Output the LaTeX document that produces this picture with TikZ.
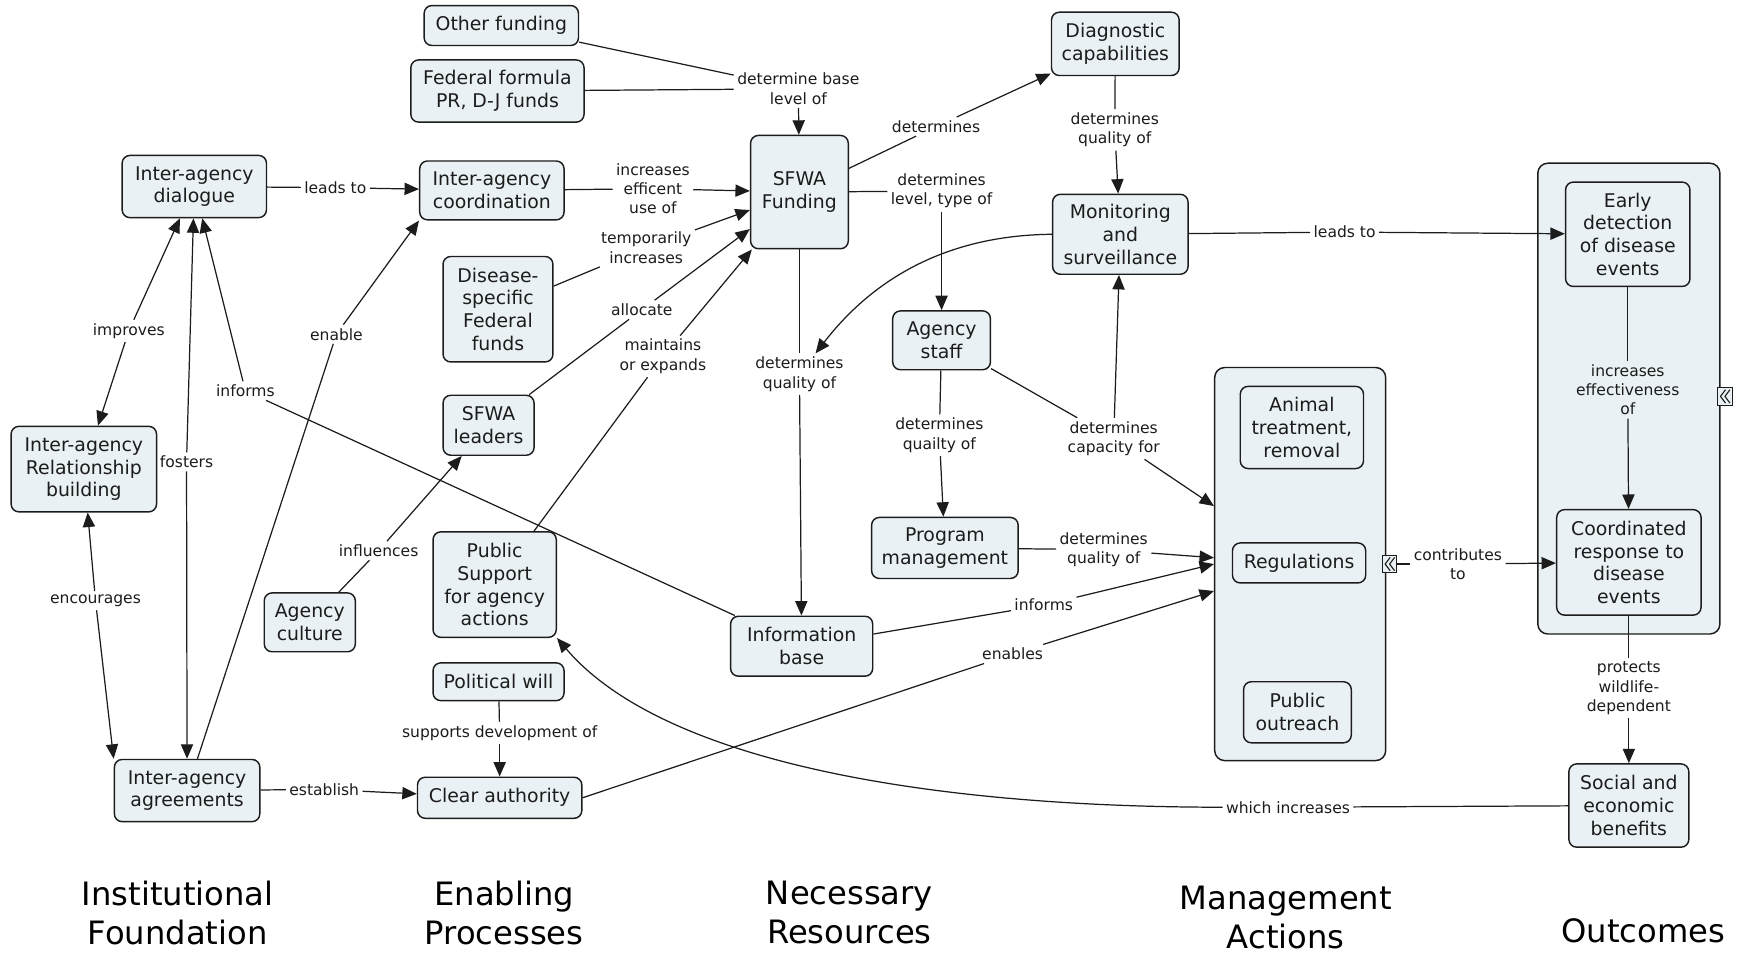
\documentclass[tikz,border=0pt]{standalone}
\usepackage{fontspec}
\setmainfont{DejaVu Sans}
\usetikzlibrary{arrows.meta}
\definecolor{boxfill}{RGB}{234,241,245}
\definecolor{ink}{RGB}{28,28,28}
\tikzset{
 box/.style={draw=ink, fill=boxfill, rounded corners=7pt, line width=1.3pt, align=center, inner sep=2pt, font=\fontsize{17}{20.5}\selectfont, text=ink},
 lab/.style={align=center, inner sep=3pt, font=\fontsize{14}{17.5}\selectfont, text=ink},
 ttl/.style={align=center, inner sep=0pt, font=\fontsize{29}{35}\selectfont, text=black},
 conn/.style={draw=ink, line width=1.1pt},
 arr/.style={conn, -{Triangle[length=13pt,width=11pt]}},
 cont/.style={draw=ink, fill=boxfill, rounded corners=9pt, line width=1.3pt, inner sep=0pt},
 mkbox/.style={draw=ink, fill=boxfill, line width=1pt, minimum width=13pt, minimum height=16pt, inner sep=0pt},
 chev/.style={draw=ink, line width=1pt},
}
\begin{document}
\begin{tikzpicture}[x=1pt,y=-1pt]
\fill[white] (0,0) rectangle (1568,858);
\useasboundingbox (0,0) rectangle (1568,858);

% containers
\node[cont, minimum width=154pt, minimum height=354pt] (mg) at (1171,508) {};
\node[cont, minimum width=164pt, minimum height=424pt] (oc) at (1467,359) {};

% concept boxes
\node[box, minimum width=139pt, minimum height=36pt] (of) at (451.5,23) {Other funding};
\node[box, minimum width=156pt, minimum height=56pt] (ff) at (448,82) {Federal formula\\PR, D-J funds};
\node[box, minimum width=130pt, minimum height=56pt] (idl) at (175,168) {Inter-agency\\dialogue};
\node[box, minimum width=130pt, minimum height=53pt] (ico) at (443,171.5) {Inter-agency\\coordination};
\node[box, minimum width=88pt, minimum height=102pt] (sf) at (720,173) {SFWA\\Funding};
\node[box, minimum width=115pt, minimum height=57pt] (dc) at (1004.5,39.5) {Diagnostic\\capabilities};
\node[box, minimum width=122pt, minimum height=72pt] (ms) at (1009,211) {Monitoring\\and\\surveillance};
\node[box, minimum width=112pt, minimum height=94pt] (ed) at (1466,211) {Early\\detection\\of disease\\events};
\node[box, minimum width=99pt, minimum height=95pt] (ds) at (448.5,278.5) {Disease-\\specific\\Federal\\funds};
\node[box, minimum width=88pt, minimum height=53pt] (as) at (848,306.5) {Agency\\staff};
\node[box, minimum width=131pt, minimum height=77pt] (irb) at (75.5,422.5) {Inter-agency\\Relationship\\building};
\node[box, minimum width=82pt, minimum height=54pt] (sl) at (440,383) {SFWA\\leaders};
\node[box, minimum width=111pt, minimum height=74pt] (at) at (1172.5,385) {Animal\\treatment,\\removal};
\node[box, minimum width=120pt, minimum height=36pt] (rg) at (1170,507) {Regulations};
\node[box, minimum width=97pt, minimum height=55pt] (po) at (1168.5,641.5) {Public\\outreach};
\node[box, minimum width=130pt, minimum height=95pt] (cr) at (1467,506.5) {Coordinated\\response to\\disease\\events};
\node[box, minimum width=132pt, minimum height=55pt] (pm) at (851,493.5) {Program\\management};
\node[box, minimum width=111pt, minimum height=95pt] (ps) at (445.5,526.5) {Public\\Support\\for agency\\actions};
\node[box, minimum width=82pt, minimum height=53pt] (ac) at (279,560.5) {Agency\\culture};
\node[box, minimum width=128pt, minimum height=54pt] (ib) at (722,582) {Information\\base};
\node[box, minimum width=118pt, minimum height=34pt] (pw) at (449,614) {Political will};
\node[box, minimum width=131pt, minimum height=56pt] (ia) at (168.5,712) {Inter-agency\\agreements};
\node[box, minimum width=148pt, minimum height=37pt] (ca) at (450,718.5) {Clear authority};
\node[box, minimum width=108pt, minimum height=75pt] (se) at (1467,725.5) {Social and\\economic\\benefits};

% markers
\node[mkbox] (mk1) at (1251.5,508) {};
\node[mkbox] (mk2) at (1553.5,357) {};
\foreach \m in {mk1,mk2}{
  \draw[chev] ([xshift=0.5pt,yshift=6pt]\m.center) -- ([xshift=-4pt]\m.center) -- ([xshift=0.5pt,yshift=-6pt]\m.center);
  \draw[chev] ([xshift=4.5pt,yshift=6pt]\m.center) -- ([xshift=0pt]\m.center) -- ([xshift=4.5pt,yshift=-6pt]\m.center);
}

% linking phrases
\node[lab] (L1) at (719,80) {determine base\\level of};
\node[lab] (L2) at (302,169) {leads to};
\node[lab] (L3) at (588,170) {increases\\efficent\\use of};
\node[lab] (L4) at (582,223) {temporarily\\increases};
\node[lab] (L5) at (578,279) {allocate};
\node[lab] (L6) at (597,321) {maintains\\or expands};
\node[lab] (L7) at (843,114) {determines};
\node[lab] (L8) at (848,172) {determines\\level, type of};
\node[lab] (L9) at (1004,117) {determines\\quality of};
\node[lab] (L10) at (1211,209) {leads to};
\node[lab] (L11) at (720,337) {determines\\quality of};
\node[lab] (L12) at (846,392) {determines\\quailty of};
\node[lab] (L13) at (1003,395) {determines\\capacity for};
\node[lab] (L14) at (994,495) {determines\\quality of};
\node[lab] (L15) at (940,545) {informs};
\node[lab] (L16) at (221,352) {informs};
\node[lab] (L17) at (912,589) {enables};
\node[lab] (L18) at (450,660) {supports development of};
\node[lab] (L19) at (292,711) {establish};
\node[lab] (L20) at (303,301) {enable};
\node[lab] (L21) at (168,416) {fosters};
\node[lab] (L22) at (116,298) {improves};
\node[lab] (L23) at (86,541) {encourages};
\node[lab] (L24) at (341,496) {influences};
\node[lab] (L25) at (1466,351) {increases\\effectiveness\\of};
\node[lab] (L26) at (1313,508) {contributes\\to};
\node[lab] (L27) at (1467,620) {protects\\wildlife-\\dependent};
\node[lab] (L28) at (1160,727) {which increases};

% titles
\node[ttl] (t1) at (160,822) {Institutional\\Foundation};
\node[ttl] (t2) at (454,822) {Enabling\\Processes};
\node[ttl] (t3) at (765,822) {Necessary\\Resources};
\node[ttl] (t4) at (1158,826) {Management\\Actions};
\node[ttl] (t5) at (1480,838) {Outcomes};

% connectors
\draw[conn] (of) -- (L1);
\draw[conn] (ff) -- (L1);
\draw[arr] (L1) -- (sf);
\draw[conn] (idl) -- (L2);
\draw[arr] (L2) -- (ico);
\draw[conn] (ico) -- (L3);
\draw[arr] (L3) -- (sf);
\draw[conn] (ds) -- (L4);
\draw[arr] (L4) -- (sf);
\draw[conn] (sl) -- (L5);
\draw[arr] (L5) -- (sf);
\draw[conn] (ps) -- (L6);
\draw[arr] (L6) -- (sf);
\draw[conn] (sf) -- (L7);
\draw[arr] (L7) -- (dc);
\draw[conn] (sf) -- (L8);
\draw[arr] (L8) -- (as);
\draw[conn] (dc) -- (L9);
\draw[arr] (L9) -- (ms);
\draw[conn] (ms) -- (L10);
\draw[arr] (L10) -- (ed);
\draw[arr] (ms.west) .. controls (840,212) and (778,262) .. (L11);
\draw[conn] (sf) -- (L11);
\draw[arr] (L11) -- (ib);
\draw[conn] (as) -- (L12);
\draw[arr] (L12) -- (pm);
\draw[conn] (as) -- (L13);
\draw[arr] (L13) -- (ms);
\draw[arr] (L13) -- (mg);
\draw[conn] (pm) -- (L14);
\draw[arr] (L14) -- (mg);
\draw[conn] (ib) -- (L15);
\draw[arr] (L15) -- (mg.west);
\draw[conn] (ib) -- (L16);
\draw[arr] (L16) -- (idl);
\draw[conn] (ca.east) -- (L17);
\draw[arr] (L17) -- (mg);
\draw[conn] (pw) -- (L18);
\draw[arr] (L18) -- (ca);
\draw[conn] (ia) -- (L19);
\draw[arr] (L19) -- (ca);
\draw[conn] (ia) -- (L20);
\draw[arr] (L20) -- (ico.south west);
\draw[arr] (L21) -- (idl);
\draw[arr] (L21) -- (ia);
\draw[arr] (L22) -- (idl);
\draw[arr] (L22) -- (irb);
\draw[arr] (L23) -- (irb);
\draw[arr] (L23) -- (ia.north west);
\draw[conn] (ac) -- (L24);
\draw[arr] (L24) -- (sl);
\draw[conn] (ed) -- (L25);
\draw[arr] (L25) -- (cr);
\draw[conn] (mk1) -- (L26);
\draw[arr] (L26) -- (cr);
\draw[conn] (cr) -- (L27);
\draw[arr] (L27) -- (se);
\draw[conn] (se) -- (L28);
\draw[arr] (L28.west) .. controls (850,727) and (600,690) .. (ps.south east);
\end{tikzpicture}
\end{document}
